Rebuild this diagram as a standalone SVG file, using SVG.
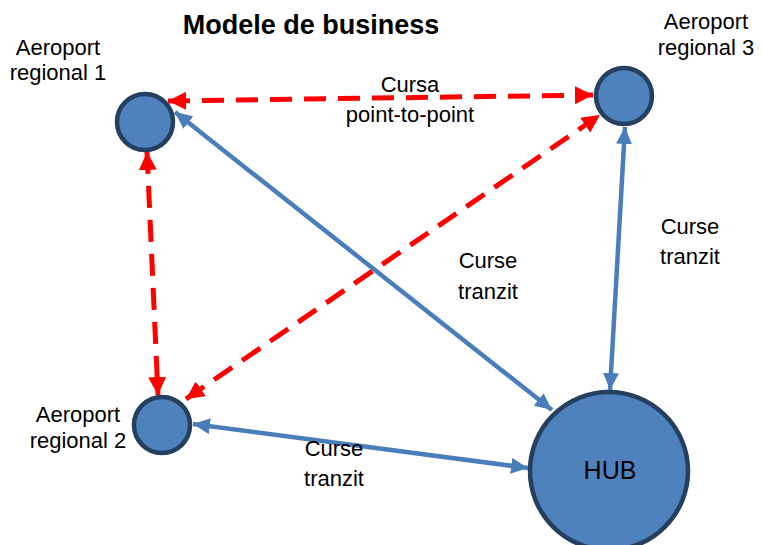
<svg xmlns="http://www.w3.org/2000/svg" width="763" height="545" viewBox="0 0 763 545">
<style>
.node{fill:#4f81bd;stroke:#243f60;stroke-width:4.5}
.t{font-family:"Liberation Sans",Arial,sans-serif;font-size:22px;fill:#000;text-anchor:middle}
.red{stroke:#ff0000;stroke-width:5;stroke-dasharray:22 12;fill:none}
.blue{stroke:#4a7ebb;stroke-width:4.5;fill:none}
</style>
<defs>
<marker id="ra" markerUnits="userSpaceOnUse" markerWidth="20" markerHeight="18" refX="18" refY="9" orient="auto-start-reverse" viewBox="0 0 20 18">
<path d="M0,0 L18,9 L0,18 Z" fill="#ff0000"/>
</marker>
<marker id="ba" markerUnits="userSpaceOnUse" markerWidth="18" markerHeight="16" refX="17" refY="8" orient="auto-start-reverse" viewBox="0 0 18 16">
<path d="M0,0 L17,8 L0,16 Z" fill="#4a7ebb"/>
</marker>
</defs>
<rect width="763" height="545" fill="#fff"/>
<text x="311" y="34" class="t" style="font-weight:bold;font-size:27px">Modele de business</text>
<g id="connectors">
<line class="red" x1="168" y1="101" x2="593" y2="95" marker-start="url(#ra)" marker-end="url(#ra)"/>
<line class="red" x1="147" y1="152" x2="158" y2="395" marker-start="url(#ra)" marker-end="url(#ra)"/>
<line class="red" x1="186" y1="399" x2="600" y2="115" marker-start="url(#ra)" marker-end="url(#ra)"/>
<line class="blue" x1="175" y1="112" x2="552" y2="410" marker-start="url(#ba)" marker-end="url(#ba)"/>
<line class="blue" x1="625" y1="127" x2="610" y2="390" marker-start="url(#ba)" marker-end="url(#ba)"/>
<line class="blue" x1="193" y1="424" x2="528" y2="468" marker-start="url(#ba)" marker-end="url(#ba)"/>
</g>
<g id="r1">
<circle class="node" cx="145" cy="122" r="28"/>
<text x="58" y="55" class="t">Aeroport</text>
<text x="58" y="80" class="t">regional 1</text>
</g>
<g id="r3">
<circle class="node" cx="624" cy="96" r="28"/>
<text x="706" y="29" class="t">Aeroport</text>
<text x="706" y="55" class="t">regional 3</text>
</g>
<g id="r2">
<circle class="node" cx="162" cy="425" r="28"/>
<text x="78" y="422" class="t">Aeroport</text>
<text x="78" y="448" class="t">regional 2</text>
</g>
<g id="hub">
<circle class="node" cx="609" cy="471" r="79"/>
<text x="610" y="479" class="t" style="font-size:25px">HUB</text>
</g>
<g id="labels">
<text x="410" y="92" class="t">Cursa</text>
<text x="410" y="122" class="t">point-to-point</text>
<text x="488" y="268" class="t">Curse</text>
<text x="488" y="299" class="t">tranzit</text>
<text x="690" y="234" class="t">Curse</text>
<text x="690" y="264" class="t">tranzit</text>
<text x="334" y="456" class="t">Curse</text>
<text x="334" y="486" class="t">tranzit</text>
</g>
</svg>
